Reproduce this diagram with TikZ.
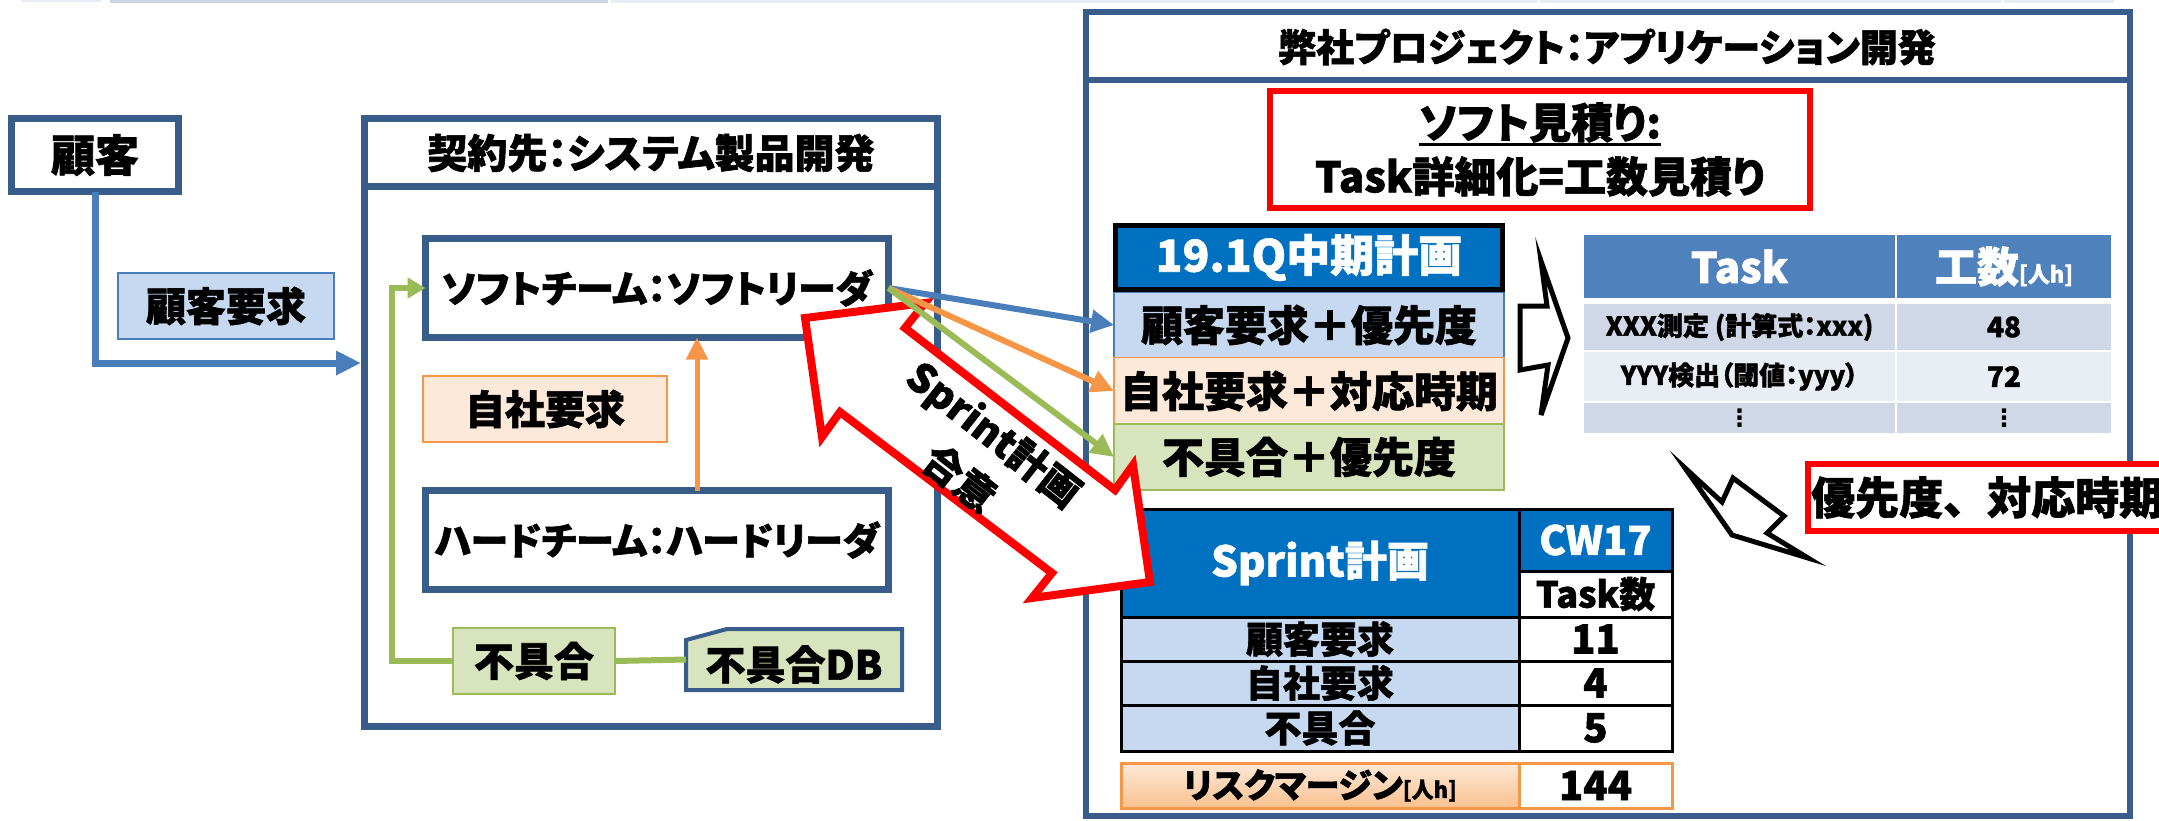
\documentclass[tikz,border=0pt]{standalone}
\usepackage{fontspec}
\setmainfont{Noto Sans CJK JP}[RawFeature=+palt,BoldFeatures={FakeBold=1.5}]
\newfontfamily\jpfull{Noto Sans CJK JP}[BoldFeatures={FakeBold=1.5}]
\newfontfamily\dvs{DejaVu Sans}
\usetikzlibrary{arrows.meta,calc}
\definecolor{dkblue}{HTML}{385D8A}
\definecolor{lineblue}{HTML}{4A7EBB}
\definecolor{reqblue}{HTML}{C6D9F1}
\definecolor{orng}{HTML}{F79646}
\definecolor{orngfill}{HTML}{FDE9D9}
\definecolor{orngdeep}{HTML}{FAC08F}
\definecolor{grn}{HTML}{9BBB59}
\definecolor{grnfill}{HTML}{D7E4BD}
\definecolor{sblue}{HTML}{0070C0}
\definecolor{thblue}{HTML}{4F81BD}
\definecolor{rowa}{HTML}{D0D8E8}
\definecolor{rowb}{HTML}{E9EDF4}
\definecolor{stripa}{HTML}{E8ECF4}
\definecolor{stripb}{HTML}{CDD5E6}
\newcommand\jf[1]{\fontsize{#1pt}{#1pt}\selectfont\bfseries}
\newcommand\jul[1]{\vtop{\hbox{#1}\kern0pt\hrule height 3pt}}
\begin{document}
\begin{tikzpicture}[x=1pt,y=-1pt,
  base/.style={rectangle, inner sep=0pt, outer sep=0pt, align=center},
  darkbox/.style={base, draw=dkblue, line width=7pt, fill=white},
  lightbox/.style={base, line width=1.5pt},
  cell/.style={base, draw=black, line width=3pt},
  tcell/.style={base, fill=#1},
  conn/.style={line width=6pt, -{Triangle[length=23pt,width=22pt]}},
  blockarr/.style={line width=5pt, draw=black, fill=white, line join=miter},
]
\clip (0,0) rectangle (2159,820);
\fill[white] (0,0) rectangle (2159,820);
% faint strips at top
\fill[stripa] (21,0) rectangle (101,1.5);
\fill[stripb] (110,0) rectangle (608,3);
\fill[stripa] (611,0) rectangle (1538,3);
\fill[stripa] (1540,0) rectangle (2002,3);
\fill[stripa] (2004,0) rectangle (2114,3);

% ---------- left part ----------
\node[darkbox, minimum width=167pt, minimum height=73pt, font={\jf{44}}] (kokyaku) at (95,155) {顧客};
\node[lightbox, draw=lineblue, fill=reqblue, minimum width=216pt, minimum height=66pt, font={\jf{40}}] (req) at (226,306) {顧客要求};

\node[darkbox, minimum width=573pt, minimum height=608pt] (contract) at (651,422.5) {};
\draw[dkblue, line width=7pt] ($(contract.north west)+(0,67.5)$) -- ($(contract.north east)+(0,67.5)$);
\node[font={\jf{40}}] (ctitle) at (651,153) {契約先：システム製品開発};

\node[darkbox, minimum width=463pt, minimum height=99pt, font={\jf{38}}] (soft) at (657,288) {ソフトチーム：ソフトリーダ};
\node[lightbox, draw=orng, fill=orngfill, minimum width=244pt, minimum height=66pt, font={\jf{40}}] (jisha) at (545,409) {自社要求};
\node[darkbox, minimum width=463pt, minimum height=99pt, font={\jf{38}}] (hard) at (657,540) {ハードチーム：ハードリーダ};
\node[lightbox, draw=grn, fill=grnfill, minimum width=162pt, minimum height=66pt, font={\jf{40}}] (fug) at (534,661) {不具合};
\node[base, minimum width=216pt, minimum height=61pt] (db) at (794,659.5) {};
\filldraw[fill=grnfill, draw=dkblue, line width=4pt] ($(db.north west)+(0,11)$) -- ($(db.north west)+(41,0)$) -- (db.north east) -- (db.south east) -- (db.south west) -- cycle;
\node[font={\jf{40}}] (dbtxt) at ($(db.center)+(0,5)$) {不具合DB};

\coordinate (cin) at (361,363);
\draw[draw=lineblue, line width=7pt, -{Triangle[length=25pt,width=23pt]}] (kokyaku.south) |- (cin);
\draw[draw=orng, line width=5pt, -{Triangle[length=22pt,width=21pt]}] ($(hard.north)+(40,0)$) -- ($(soft.south)+(40,0)$);
\draw[draw=grn, line width=6pt, -{Triangle[length=18pt,width=20pt]}] (fug.west) -- ++(-61,0) |- (soft.west);
\draw[draw=grn, line width=6pt] (fug.east) -- (db.west);

% ---------- right part ----------
\node[darkbox, line width=6.5pt, minimum width=1044pt, minimum height=804pt] (rbox) at (1608,414) {};
\draw[dkblue, line width=6.5pt] ($(rbox.north west)+(0,68)$) -- ($(rbox.north east)+(0,68)$);
\node[font={\jf{38}}] (rtitle) at (1607,47) {弊社プロジェクト：アプリケーション開発};

\node[base, draw=red, line width=6pt, fill=white, minimum width=540pt, minimum height=117pt, font={\fontsize{42pt}{54pt}\selectfont\bfseries}] (est) at (1540,149.5) {\jul{ソフト見積り:}\\Task詳細化=工数見積り};

% mid-term plan
\node[lightbox, draw=lineblue, fill=reqblue, minimum width=390pt, minimum height=65pt, font={\jf{42}}] (kr) at (1309,325) {顧客要求＋優先度};
\node[lightbox, draw=orng, fill=orngfill, minimum width=390pt, minimum height=67pt, font={\jf{42}}] (jr) at (1309,391) {自社要求＋対応時期};
\node[lightbox, draw=grn, fill=grnfill, minimum width=390pt, minimum height=66pt, font={\jf{42}}] (fr) at (1309,457) {不具合＋優先度};
\node[base, fill=sblue, draw=black, line width=5pt, minimum width=387pt, minimum height=64pt, text=white, font={\jf{44}}] (q19) at (1309,257.5) {19.1Q中期計画};

% right block arrow
\filldraw[blockarr] (1541,261) -- (1568,338) -- (1541,415) -- (1548,365) -- (1520,370) -- (1520,306) -- (1547,306) -- cycle;

% task table
\node[tcell=thblue, minimum width=311pt, minimum height=63pt, text=white, font={\jf{42}}] (th1) at (1739.5,266.5) {Task};
\node[tcell=thblue, minimum width=214pt, minimum height=63pt, text=white, font={\jf{42}}] (th2) at (2004,266.5) {工数{\jf{22}[人h]}};
\node[tcell=rowa, minimum width=311pt, minimum height=46pt, font={\jf{26}}] (t1a) at (1739.5,327) {XXX測定 (計算式：xxx)};
\node[tcell=rowa, minimum width=214pt, minimum height=46pt, font={\jf{28}}] (t1b) at (2004,327) {48};
\node[tcell=rowb, minimum width=311pt, minimum height=49pt, font={\jf{26}}] (t2a) at (1739.5,376.5) {YYY検出（閾値：yyy）};
\node[tcell=rowb, minimum width=214pt, minimum height=49pt, font={\jf{28}}] (t2b) at (2004,376.5) {72};
\node[tcell=rowa, minimum width=311pt, minimum height=30pt, font={\dvs\jf{24}}] (t3a) at (1739.5,418) {⋮};
\node[tcell=rowa, minimum width=214pt, minimum height=30pt, font={\dvs\jf{24}}] (t3b) at (2004,418) {⋮};

% diagonal block arrow
\filldraw[blockarr] (1685,468) -- (1722,502) -- (1733,478) -- (1784,516) -- (1767,533) -- (1808,558) -- (1732,535) -- cycle;

% sprint table
\node[cell, fill=sblue, minimum width=398pt, minimum height=108pt, text=white, font={\jf{42}}] (sp) at (1320,563) {Sprint計画};
\node[cell, fill=sblue, minimum width=153pt, minimum height=62pt, text=white, font={\jf{40}}] (cw) at (1595.5,540) {CW17};
\node[cell, fill=white, minimum width=153pt, minimum height=46pt, font={\jf{36}}] (tn) at (1595.5,594) {Task数};
\node[cell, fill=reqblue, minimum width=398pt, minimum height=44pt, font={\jf{37}}] (c1) at (1320,639) {顧客要求};
\node[cell, fill=white, minimum width=153pt, minimum height=44pt, font={\jf{40}}] (v1) at (1595.5,639) {11};
\node[cell, fill=reqblue, minimum width=398pt, minimum height=44pt, font={\jf{37}}] (c2) at (1320,683) {自社要求};
\node[cell, fill=white, minimum width=153pt, minimum height=44pt, font={\jf{40}}] (v2) at (1595.5,683) {4};
\node[cell, fill=reqblue, minimum width=398pt, minimum height=46pt, font={\jf{37}}] (c3) at (1320,728) {不具合};
\node[cell, fill=white, minimum width=153pt, minimum height=46pt, font={\jf{40}}] (v3) at (1595.5,728) {5};
\node[base, draw=orng, line width=3pt, top color=orngfill, bottom color=orngdeep, minimum width=398pt, minimum height=45pt, font={\jf{34}}] (rk) at (1320,785.5) {リスクマージン{\jf{22}[人h]}};
\node[base, draw=orng, line width=3pt, fill=white, minimum width=153pt, minimum height=45pt, font={\jf{40}}] (rv) at (1595.5,785.5) {144};

% big red double arrow
\filldraw[draw=red, fill=white, line width=8pt, line join=miter] (805,318) -- (925,303) -- (905,328) -- (1115,490) -- (1133,465) -- (1150,582) -- (1032,598) -- (1052,573) -- (840,412) -- (822,437) -- cycle;
\node[rotate=-38, align=center, inner sep=0pt, font={\fontsize{40pt}{56pt}\selectfont\bfseries}] (agree) at (977,456) {Sprint計画\\合意};

% connectors from soft team
\draw[conn, draw=lineblue] (soft.east) -- (kr.west);
\draw[conn, draw=orng] (soft.east) -- (jr.west);
\draw[conn, draw=grn] (soft.east) -- (fr.west);

% priority box
\node[base, draw=red, line width=6pt, fill=white, minimum width=367pt, minimum height=67pt, anchor=west] (prio) at (1808,497.5) {};
\node[anchor=west, inner sep=0pt, font={\jpfull\jf{44}}] (priotxt) at (1811,497.5) {優先度、対応時期};
\end{tikzpicture}
\end{document}
